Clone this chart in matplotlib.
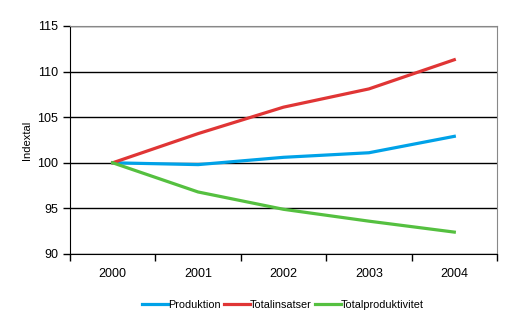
import matplotlib
matplotlib.use("Agg")
import matplotlib.pyplot as plt

plt.rcParams["font.family"] = ["Liberation Sans", "DejaVu Sans"]

years = ["2000", "2001", "2002", "2003", "2004"]
produktion = [100.0, 99.8, 100.6, 101.1, 102.9]
totalinsatser = [100.0, 103.2, 106.1, 108.1, 111.3]
totalproduktivitet = [100.0, 96.8, 94.9, 93.6, 92.4]

fig = plt.figure(figsize=(5.12, 3.22), dpi=100)
ax = fig.add_axes([0.1367, 0.2112, 0.834, 0.7081])

x = [i + 0.5 for i in range(len(years))]
ax.plot(x, produktion, color="#00A2E8", lw=2.3, label="Produktion")
ax.plot(x, totalinsatser, color="#E03535", lw=2.3, label="Totalinsatser")
ax.plot(x, totalproduktivitet, color="#55C040", lw=2.3, label="Totalproduktivitet")

ax.set_xlim(0, 5)
ax.set_ylim(90, 115)
ax.set_yticks(range(90, 116, 5))
ax.set_xticks(range(6))
ax.set_xticklabels([])
ax.set_xticks(x, minor=True)
ax.set_xticklabels(years, minor=True)
ax.tick_params(axis="x", which="minor", length=0, pad=10, labelsize=9)
ax.tick_params(axis="x", which="major", length=5, direction="out", width=1)
ax.tick_params(axis="y", length=5, direction="out", labelsize=9, width=1)
ax.grid(axis="y", color="black", lw=1)
ax.set_axisbelow(True)
for s in ["top", "right"]:
    ax.spines[s].set_color("#888888")
for s in ["left", "bottom"]:
    ax.spines[s].set_color("black")
ax.set_ylabel("Indextal", fontsize=8, labelpad=4)

fig.legend(loc="center", bbox_to_anchor=(0.552, 0.053), ncol=3, frameon=False,
           fontsize=7.8, handlelength=2.4, handletextpad=0.0, columnspacing=0.3)

fig.savefig("out.png", dpi=100)
